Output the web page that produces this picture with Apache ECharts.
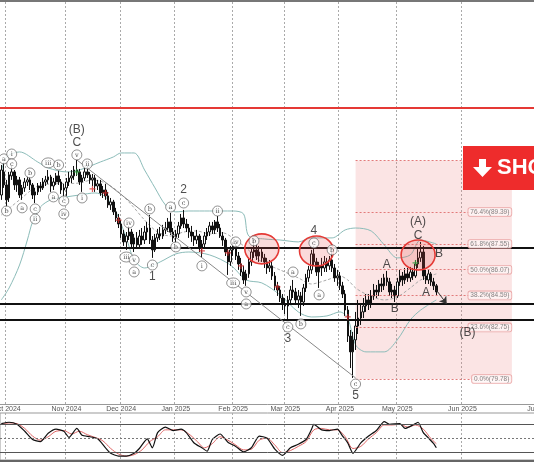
<!DOCTYPE html>
<html><head><meta charset="utf-8">
<script src="https://cdn.jsdelivr.net/npm/echarts@6/dist/echarts.min.js"></script>
<style>html,body{margin:0;padding:0;background:#fff}#c{width:534px;height:462px}</style>
</head><body><div id="c"></div>
<script>
// ---------- DATA ----------
const opens=[90.37,91.70,90.95,90.20,91.47,91.70,90.95,91.24,90.43,90.78,
91.12,91.24,90.95,90.37,90.55,90.89,90.78,91.12,91.24,91.41,
90.89,91.12,91.47,91.12,90.66,90.78,91.12,91.35,91.47,91.81,
91.70,91.12,91.35,91.70,91.53,91.24,91.35,90.89,91.01,90.49,
90.66,90.32,89.80,89.97,89.40,89.05,88.70,88.13,87.67,88.01,
88.24,87.55,87.90,87.50,88.01,87.78,88.24,88.47,87.78,87.21,
87.90,88.13,88.01,88.36,88.47,88.82,88.24,87.90,88.13,88.59,
89.05,88.70,88.47,88.24,88.01,87.78,88.01,87.32,87.55,88.01,
88.24,88.59,88.36,88.82,88.47,88.01,87.78,87.09,86.52,87.21,
87.44,86.86,86.40,85.94,85.48,85.83,86.52,87.09,87.21,86.86,
87.09,86.75,86.52,86.17,86.29,85.71,85.14,84.90,84.44,84.10,
83.98,84.33,84.90,84.79,84.33,84.56,84.21,85.02,85.60,86.06,
86.98,86.52,85.94,86.29,86.17,86.52,86.29,86.63,86.17,85.60,
85.71,85.14,84.67,83.75,82.25,81.34,82.03,82.83,83.29,83.64,
83.98,84.33,84.10,84.56,84.90,84.79,85.25,85.14,85.60,85.37,
84.79,84.90,84.56,85.37,85.71,85.48,85.83,85.60,85.94,85.71,
86.40,86.75,87.09,85.71,85.48,85.83,85.37,85.14];
const closes=[91.81,90.95,90.09,91.53,91.70,90.95,91.24,90.37,90.78,91.12,
91.24,90.95,90.37,90.55,90.89,90.78,91.12,91.24,91.41,90.89,
91.12,91.47,91.12,90.66,90.78,91.12,91.35,91.47,91.81,91.70,
91.12,91.35,91.70,91.53,91.24,91.35,90.89,91.01,90.49,90.66,
90.32,89.80,89.97,89.40,89.05,88.70,88.13,87.67,88.01,88.24,
87.55,87.90,87.50,88.01,87.78,88.24,88.47,87.78,87.21,87.90,
88.13,88.01,88.36,88.47,88.82,88.24,87.90,88.13,88.59,89.05,
88.70,88.47,88.24,88.01,87.78,88.01,87.32,87.55,88.01,88.24,
88.59,88.36,88.82,88.47,88.01,87.78,87.09,86.52,87.21,87.44,
86.86,86.40,85.94,85.48,85.83,86.52,87.09,87.21,86.86,87.09,
86.75,86.52,86.17,86.29,85.71,85.14,84.90,84.44,84.10,83.98,
84.33,84.90,84.79,84.33,84.56,84.21,85.02,85.60,86.06,86.98,
86.52,85.94,86.29,86.17,86.52,86.29,86.63,86.17,85.60,85.71,
85.14,84.67,83.75,82.25,81.34,82.03,82.83,83.29,83.64,83.98,
84.33,84.10,84.56,84.90,84.79,85.25,85.14,85.60,85.37,84.79,
84.90,84.56,85.37,85.71,85.48,85.83,85.60,85.94,85.71,86.40,
86.75,87.09,85.71,85.48,85.83,85.37,85.14,84.79];
const lows=[90.09,90.78,89.68,89.97,91.24,90.66,90.55,90.20,90.09,90.55,
90.89,90.66,90.14,89.91,90.37,90.55,90.66,90.89,91.01,90.55,
90.66,90.95,90.95,90.43,90.14,90.32,90.89,91.06,91.24,91.47,
90.95,90.55,91.18,91.35,91.01,90.89,90.55,90.66,90.32,90.20,
90.09,89.63,89.51,89.22,88.82,88.47,87.90,87.44,87.21,87.78,
87.32,87.09,87.32,87.32,87.50,87.55,87.78,87.55,86.75,87.09,
87.67,87.78,87.84,88.13,88.24,88.07,87.67,87.61,87.90,88.42,
88.47,88.24,87.90,87.67,87.44,87.55,87.09,86.75,87.32,87.78,
88.01,88.13,88.13,88.24,87.90,87.44,86.86,85.77,86.29,86.86,
86.63,86.06,85.71,85.25,85.14,85.60,86.29,86.75,86.63,86.52,
86.52,86.17,85.83,85.94,85.48,84.90,84.56,84.21,83.75,83.52,
83.18,84.10,84.44,84.10,83.87,83.41,83.98,84.79,85.37,85.83,
86.29,85.71,85.02,85.71,85.94,85.94,86.06,85.94,85.37,85.14,
84.90,84.44,83.41,81.91,80.41,79.84,81.45,82.37,82.89,83.29,
83.64,83.75,83.87,84.33,84.44,84.56,84.79,84.90,85.14,84.56,
84.44,84.21,84.44,85.14,85.14,85.25,85.37,85.37,85.48,85.60,
86.17,86.52,85.48,85.25,85.25,85.14,84.90,84.56];
const highs=[92.10,92.22,91.24,91.70,92.10,91.81,91.47,91.41,90.95,91.35,
91.47,91.41,91.06,90.78,91.06,91.12,91.35,91.47,91.81,91.53,
91.35,91.64,91.76,91.29,91.01,91.35,91.70,91.81,92.04,92.39,
91.87,91.53,91.93,92.04,91.70,91.58,91.53,91.24,91.24,90.89,
91.01,90.55,90.20,90.09,89.63,89.28,88.93,88.36,88.24,88.59,
88.42,88.13,88.24,88.36,88.47,88.59,88.82,89.22,88.01,88.13,
88.42,88.53,88.65,88.82,89.05,89.34,88.47,88.36,88.82,89.28,
89.51,88.99,88.70,88.59,88.24,88.36,88.13,87.78,88.24,88.47,
88.82,88.82,88.93,89.16,88.70,88.24,87.90,87.32,87.44,87.67,
87.61,87.09,86.75,86.29,86.06,86.75,87.32,87.78,87.55,87.44,
87.32,86.98,86.75,86.63,86.52,85.94,85.37,85.14,84.67,84.44,
84.56,85.14,85.48,85.02,84.90,84.79,85.25,85.83,86.29,87.21,
87.44,86.75,86.52,86.75,86.86,86.75,86.86,87.09,86.40,86.06,
85.94,85.37,84.90,83.98,82.60,82.49,83.64,84.33,84.10,84.44,
84.67,84.67,84.90,85.25,85.19,85.48,85.60,85.83,86.00,85.60,
85.25,85.14,85.60,86.06,85.94,86.17,86.17,86.23,86.17,86.63,
87.32,87.67,87.44,86.06,86.06,85.94,85.60,85.25];

const bbUpBars=[0,2,7,14,18,25,30,38,43,46,51,55,59,63,67,72,80,89,93,95,101,107,114,119,127,132,136,142,147,152,157,161,167];
const bbUpVals=[91.70,92.56,92.85,92.27,91.93,91.70,91.81,92.27,92.56,92.79,92.79,91.81,90.78,89.80,89.40,89.45,89.45,89.45,89.28,88.01,87.84,87.78,87.67,87.90,87.90,88.36,88.47,88.30,87.50,86.75,86.92,87.78,87.55];
const bbLoBars=[0,3,7,10,12,15,19,25,30,36,40,44,48,51,55,61,67,72,80,88,94,100,107,114,119,125,130,133,136,140,147,152,157,161,167];
const bbLoVals=[84.33,85.02,86.34,87.78,88.82,89.68,90.09,90.26,90.37,90.49,90.26,89.40,87.90,86.63,86.17,86.52,86.98,87.09,86.92,86.34,85.48,85.31,84.62,83.64,83.35,83.41,83.64,83.29,81.74,81.34,81.34,82.03,83.18,83.75,84.33];
const bbMidBars=[0,7,14,20,30,35,40,45,50,55,60,65,70,75,80,85,90,94,100,107,114,119,125,130,133,136,140,147,152,157,161,167];
const bbMidVals=[89.22,90.09,90.89,91.01,91.06,91.24,91.06,90.55,89.80,88.93,88.24,88.01,88.24,88.30,88.13,88.19,87.78,87.32,86.52,86.06,85.60,85.25,85.48,85.71,85.48,85.02,84.67,84.33,84.50,85.02,85.48,85.83];

const rsiBars=[0,3,6,9,12,15,18,21,24,26,29,31,34,37,40,42,45,48,51,53,56,58,60,63,66,69,71,74,77,79,81,84,87,90,93,96,99,102,105,108,111,114,117,119,120,123,126,129,131,133,135,138,141,144,147,149,153,155,157,159,160,162,164,166,167];
const rsiVals=[71,73,70,60,48,45,57,63,60,51,64,54,52,49,36,28,24,24,28,35,49,36,58,66,61,63,58,43,36,31,48,56,44,38,30,36,53,50,34,25,36,41,48,62,70,62,61,63,53,43,28,43,53,61,74,70,71,64,67,71,73,58,50,42,36];
const sigBars=[0,3,6,9,12,15,18,21,24,27,30,33,36,39,42,45,48,51,54,57,60,63,66,69,72,75,78,81,84,87,90,93,96,99,102,105,108,111,114,117,120,123,126,129,132,135,138,141,144,147,150,153,156,159,162,165,167];
const sigVals=[70,72,71,64,53,47,52,60,61,56,60,55,51,46,35,27,24,26,33,45,52,62,62,62,56,46,36,42,52,47,40,33,34,47,50,40,29,32,38,45,62,64,62,62,52,35,38,49,58,69,69,70,66,69,63,49,42];
const rsiLevels=[70,50,30];

const redLine=95.38;
const blackLines=[87.32,84.10,83.18];
const trendFrom=[29,92.39], trendTo=[136,79.84];
const arrowFrom=[167,84.90], arrowTo=[171,84.10];

const fibLevels=[0,23.6,38.2,50.0,61.8,76.4,100];
const fibPrices=[79.78,82.75,84.59,86.07,87.55,89.39,92.36];
const fibStartBar=136, fibEndBar=196;

const circTexts=['a','b','i','c','a','b','c','ii','iii','a','b','c','iv','v','i','ii','iii','iv','v','a','b','c','a','b','c','i','ii','iii','iv','v','a','b','c','a','b','c','a','b','c'];
const circBars=[1,2,4,4,8,11,13,13,18,20,22,24,24,29,31,33,48,49,51,51,57,58,65,67,70,77,83,89,90,94,94,97,110,112,115,120,122,127,136];
const circPrices=[92.45,89.45,92.73,92.16,89.63,91.64,89.57,88.99,92.22,90.26,92.10,90.03,89.28,92.68,90.20,92.16,86.80,88.76,86.63,85.94,89.57,86.34,89.68,87.38,89.91,86.29,89.45,85.31,87.67,84.79,84.10,87.73,82.77,85.94,82.95,87.61,84.62,87.21,79.49];

const bigTexts=['(B)','C','1','2','3','4','5','A','B','(A)','C','B','A','(B)'];
const bigBars=[29,29,58,70,110,120,136,148,151,160,160,168,163,179];
const bigPrices=[94.11,93.36,85.65,90.66,82.08,88.30,78.80,86.34,83.81,88.82,88.01,86.98,84.73,82.43];

const greenPlus=[[29,91.70],[159,86.46]];
const redPlus=[[35,90.72],[40,90.49],[45,88.93],[77,87.15],[87,87.04],[92,86.29],[106,85.08],[133,83.35]];

const ellipseBars=[100,121,160];
const ellipsePrices=[87.27,87.15,86.92];

// ---------- CATEGORIES ----------
function fmt(d){return d.getUTCFullYear()+'-'+String(d.getUTCMonth()+1).padStart(2,'0')+'-'+String(d.getUTCDate()).padStart(2,'0');}
const dates=[];
(function(){
  let t=Date.UTC(2024,8,27);
  const lastBar=Date.UTC(2025,4,22), end=Date.UTC(2025,6,1);
  const hol=['2024-12-25','2025-01-01'];
  while(t<=end){
    const d=new Date(t), s=fmt(d), wd=d.getUTCDay();
    if(t>lastBar || (wd!==0 && wd!==6 && hol.indexOf(s)<0)) dates.push(s);
    t+=86400000;
  }
})();
const MON=['Jan','Feb','Mar','Apr','May','Jun','Jul','Aug','Sep','Oct','Nov','Dec'];
function isMonthStart(i){return i>0 && dates[i].slice(0,7)!==dates[i-1].slice(0,7);}
function monthLabel(v){return MON[+v.slice(5,7)-1]+' '+v.slice(0,4);}

const BAR=2.605;
const gridW=dates.length*BAR;

const candleData=opens.map((o,i)=>[o,closes[i],lows[i],highs[i]]);
const pairs=(b,v)=>b.map((x,k)=>[x,v[k]]);

const FONT='Liberation Sans, Arial, sans-serif';
const plusPath='path://M2,0L3,0L3,2L5,2L5,3L3,3L3,5L2,5L2,3L0,3L0,2L2,2Z';

const chart=echarts.init(document.getElementById('c'),null,{renderer:'canvas'});
chart.setOption({
  animation:false,
  backgroundColor:'#fff',
  grid:[
    {left:0,top:2,width:gridW,height:402,outerBoundsMode:'none',show:false},
    {left:0,top:413,width:gridW,height:47,outerBoundsMode:'none',show:true,borderColor:'#999',borderWidth:1}
  ],
  xAxis:[
    {type:'category',gridIndex:0,data:dates,boundaryGap:true,
     axisLine:{show:true,lineStyle:{color:'#999',width:1}},axisTick:{show:false},
     axisLabel:{show:true,interval:(i)=>isMonthStart(i),formatter:monthLabel,fontSize:7,color:'#555',margin:2,fontFamily:FONT},
     splitLine:{show:true,interval:(i)=>isMonthStart(i),lineStyle:{color:'#aaa',type:[2,2],width:1}}},
    {type:'category',gridIndex:1,data:dates,boundaryGap:true,
     axisLine:{show:false},axisTick:{show:false},axisLabel:{show:false},
     splitLine:{show:true,interval:(i)=>isMonthStart(i),lineStyle:{color:'#aaa',type:[2,2],width:1}}}
  ],
  yAxis:[
    {type:'value',gridIndex:0,min:78.34,max:101.48,show:false,splitLine:{show:false}},
    {type:'value',gridIndex:1,min:18.3,max:86.4,show:false,splitLine:{show:false}}
  ],
  series:[
    // Fibonacci zone
    {type:'scatter',xAxisIndex:0,yAxisIndex:0,data:[],z:1,silent:true,
     markArea:{silent:true,itemStyle:{color:'rgba(238,130,130,0.22)'},
       data:[[{xAxis:dates[fibStartBar],yAxis:fibPrices[fibPrices.length-1]},{xAxis:dates[fibEndBar],yAxis:fibPrices[0]}]]},
     markLine:{silent:true,symbol:'none',label:{show:false},lineStyle:{color:'#e27a7a',type:[2,2],width:1},
       data:fibPrices.map(p=>[{coord:[dates[fibStartBar],p]},{coord:[dates[fibEndBar],p]}])}},
    // Bollinger bands
    {type:'line',name:'bbUp',data:pairs(bbUpBars,bbUpVals),smooth:0.3,symbol:'none',z:2,lineStyle:{color:'#8cbcb9',width:1}},
    {type:'line',name:'bbLo',data:pairs(bbLoBars,bbLoVals),smooth:0.3,symbol:'none',z:2,lineStyle:{color:'#8cbcb9',width:1}},
    {type:'line',name:'bbMid',data:pairs(bbMidBars,bbMidVals),smooth:0.3,symbol:'none',z:2,lineStyle:{color:'#aaa',width:1,type:[3,2]}},
    // candles
    {type:'candlestick',data:candleData,barWidth:2,z:3,
     itemStyle:{color:'#ffffff',color0:'#111',borderColor:'#111',borderColor0:'#111',borderWidth:1}},
    // horizontal and trend lines
    {type:'line',data:[],z:4,silent:true,
     markLine:{silent:true,symbol:'none',label:{show:false},
       data:[
         {yAxis:redLine,lineStyle:{color:'#e53935',width:2,type:'solid'}},
         ...blackLines.map(v=>({yAxis:v,lineStyle:{color:'#111',width:2,type:'solid'}})),
         [{coord:trendFrom,lineStyle:{color:'#888',width:1,type:'solid'}},{coord:trendTo}]
       ]}},
    {type:'line',data:[],z:6,silent:true,
     markLine:{silent:true,symbol:['none','arrow'],symbolSize:7,label:{show:false},
       lineStyle:{color:'#333',width:1,type:'solid'},
       data:[[{coord:arrowFrom},{coord:arrowTo}]]}},
    // ellipses
    {type:'custom',z:5,data:pairs(ellipseBars,ellipsePrices),silent:true,
     renderItem:function(params,api){
       const c=api.coord([api.value(0),api.value(1)]);
       return {type:'ellipse',shape:{cx:c[0],cy:c[1],rx:17,ry:15},
         style:{fill:'rgba(236,70,70,0.2)',stroke:'#e53935',lineWidth:1.6}};
     }},
    // plus markers
    {type:'scatter',z:6,data:greenPlus,symbol:plusPath,symbolSize:6,itemStyle:{color:'#2e9e3e'},silent:true},
    {type:'scatter',z:6,data:redPlus,symbol:plusPath,symbolSize:6,itemStyle:{color:'#d32f2f'},silent:true},
    // circled wave labels
    {type:'scatter',z:7,silent:true,data:pairs(circBars,circPrices),symbol:'circle',
     symbolSize:(v,p)=>circTexts[p.dataIndex].length>2?[13,10]:[10,10],
     itemStyle:{color:'#fff',borderColor:'#555',borderWidth:0.8},
     label:{show:true,position:'inside',formatter:(p)=>circTexts[p.dataIndex],fontSize:6.5,color:'#222',fontFamily:'DejaVu Serif, serif'}},
    // big wave labels
    {type:'scatter',z:7,silent:true,data:pairs(bigBars,bigPrices),symbol:'circle',symbolSize:1,
     itemStyle:{color:'rgba(0,0,0,0)'},
     label:{show:true,position:'inside',formatter:(p)=>bigTexts[p.dataIndex],fontSize:12,color:'#222',fontFamily:FONT}},
    // fib labels
    {type:'scatter',z:6,silent:true,data:fibPrices.map(p=>[dates[fibEndBar],p]),symbol:'circle',symbolSize:1,
     itemStyle:{color:'rgba(0,0,0,0)'},
     label:{show:true,position:'left',distance:0,
       formatter:(p)=>fibLevels[p.dataIndex].toFixed(1)+'%('+fibPrices[p.dataIndex].toFixed(2)+')',
       fontSize:6.5,color:'#666',fontFamily:FONT,backgroundColor:'#fff6f6',borderColor:'#e79a9a',borderWidth:0.8,borderRadius:2,padding:[1,2,0,2]}},
    // RSI
    {type:'line',xAxisIndex:1,yAxisIndex:1,data:pairs(sigBars,sigVals),symbol:'none',smooth:0.3,z:2,lineStyle:{color:'#e06666',width:1}},
    {type:'line',xAxisIndex:1,yAxisIndex:1,data:pairs(rsiBars,rsiVals),symbol:'none',smooth:0.2,z:3,lineStyle:{color:'#111',width:1.2},
     markLine:{silent:true,symbol:'none',label:{show:false},
       data:rsiLevels.map(v=>({yAxis:v,lineStyle:{color:v===50?'#777':'#555',width:1,type:v===50?[2,2]:'solid'}}))}}
  ],
  graphic:[
    {type:'rect',shape:{x:0,y:0,width:534,height:2},style:{fill:'#777'},z:100},
    {type:'rect',shape:{x:0,y:460,width:534,height:2},style:{fill:'#666'},z:100},
    {type:'rect',shape:{x:463,y:146,width:80,height:44},style:{fill:'#ee2c2c'},z:100},
    {type:'polygon',shape:{points:[[479,159],[486,159],[486,167],[492,167],[482.5,177],[473,167],[479,167]]},style:{fill:'#fff'},z:101},
    {type:'text',x:497,y:168,style:{text:'SHORT',fill:'#fff',font:'bold 22px '+FONT,textVerticalAlign:'middle',verticalAlign:'middle'},z:101}
  ]
});
</script>
</body></html>
